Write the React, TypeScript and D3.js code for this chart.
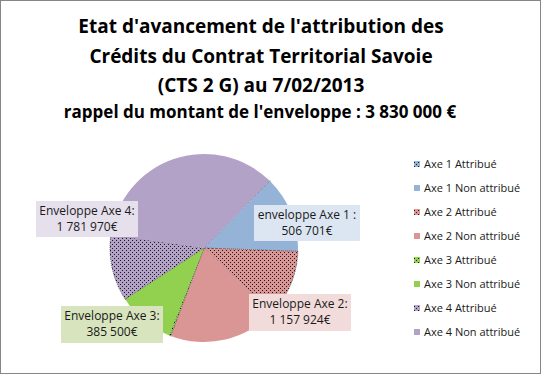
import React from "react";
import * as d3 from "d3";

const categories = [
  "Axe 1 Attribué",
  "Axe 1 Non attribué",
  "Axe 2 Attribué",
  "Axe 2 Non attribué",
  "Axe 3 Attribué",
  "Axe 3 Non attribué",
  "Axe 4 Attribué",
  "Axe 4 Non attribué",
];
const values = [4000, 502701, 436000, 721924, 12000, 373500, 436000, 1345970];
const patterned = [true, false, true, false, true, false, true, false];
const baseColors = ["#95B3D7", "#95B3D7", "#D99694", "#D99694", "#92D050", "#92D050", "#B3A2C7", "#B3A2C7"];

const envelopeLines = [
  ["enveloppe Axe 1 :", "506 701€"],
  ["Enveloppe Axe 2:", "1 157 924€"],
  ["Enveloppe Axe 3:", "385 500€"],
  ["Enveloppe Axe 4:", "1 781 970€"],
];
const envelopeFills = ["#DCE6F2", "#F2DCDB", "#D7E4BD", "#E6E0EC"];
const titleLines = [
  "Etat d'avancement de l'attribution des",
  "Crédits du Contrat Territorial Savoie",
  "(CTS 2 G) au 7/02/2013",
];
const subtitle = "rappel du montant de l'enveloppe : 3 830 000 €";

// layout
const W = 541;
const H = 374;
const cx = 204;
const cy = 248;
const R = 94;
const startDeg = 44.4;
const labelBoxes = [
  { x: 254, y: 205, w: 106, h: 36 },
  { x: 249, y: 294, w: 102, h: 37 },
  { x: 61, y: 306, w: 102, h: 37 },
  { x: 36, y: 201, w: 102, h: 36 },
];

export default function App() {
  const pie = d3
    .pie<number>()
    .sort(null)
    .value((d) => d)
    .startAngle((startDeg * Math.PI) / 180)
    .endAngle((startDeg * Math.PI) / 180 + 2 * Math.PI);
  const arcs = pie(values);
  const arcGen = d3.arc<d3.PieArcDatum<number>>().innerRadius(0).outerRadius(R);
  const font = "'Open Sans', 'Noto Sans', sans-serif";
  const legendX = 414;
  const legendY0 = 166;
  const legendStep = 24;

  return (
    <div style={{ position: "fixed", left: 0, top: 0 }}>
      <svg width={W} height={H} style={{ display: "block" }}>
        <defs>
          {baseColors.map((c, i) => (
            <pattern key={i} id={`pat${i}`} width={4} height={4} patternUnits="userSpaceOnUse">
              <rect width={4} height={4} fill={c} />
              <rect x={0} y={0} width={1} height={1} fill="#1a1a1a" />
              <rect x={2} y={2} width={1} height={1} fill="#1a1a1a" />
            </pattern>
          ))}
        </defs>
        <rect x={0.5} y={0.5} width={W - 1} height={H - 1} fill="#fff" stroke="#868686" />
        <g fontFamily={font} fontWeight="bold" fill="#000" textAnchor="middle">
          {titleLines.map((t, i) => (
            <text key={i} x={261} y={33 + i * 29.5} fontSize={19}>
              {t}
            </text>
          ))}
          <text x={260} y={118} fontSize={17}>
            {subtitle}
          </text>
        </g>
        <g transform={`translate(${cx},${cy})`}>
          {arcs.map((a, i) => (
            <path
              key={i}
              d={arcGen(a) || ""}
              fill={patterned[i] ? `url(#pat${i})` : baseColors[i]}
              stroke={patterned[i] ? "#1a1a1a" : "none"}
              strokeWidth={patterned[i] ? 0.6 : 0}
              strokeDasharray={patterned[i] ? "1 1" : undefined}
            />
          ))}
        </g>
        <g fontFamily={font} fontSize={12} fill="#1a1a1a" textAnchor="middle">
          {labelBoxes.map((b, i) => (
            <g key={i}>
              <rect x={b.x} y={b.y} width={b.w} height={b.h} fill={envelopeFills[i]} />
              <text x={b.x + b.w / 2} y={b.y + 14}>
                {envelopeLines[i][0]}
              </text>
              <text x={b.x + b.w / 2} y={b.y + 30}>
                {envelopeLines[i][1]}
              </text>
            </g>
          ))}
        </g>
        <g fontFamily={font} fontSize={11} fill="#1a1a1a">
          {categories.map((c, i) => (
            <g key={i} transform={`translate(${legendX},${legendY0 + i * legendStep})`}>
              <rect
                x={0}
                y={-5}
                width={6}
                height={6}
                fill={patterned[i] ? `url(#pat${i})` : baseColors[i]}
              />
              <text x={10} y={2}>
                {c}
              </text>
            </g>
          ))}
        </g>
      </svg>
    </div>
  );
}
